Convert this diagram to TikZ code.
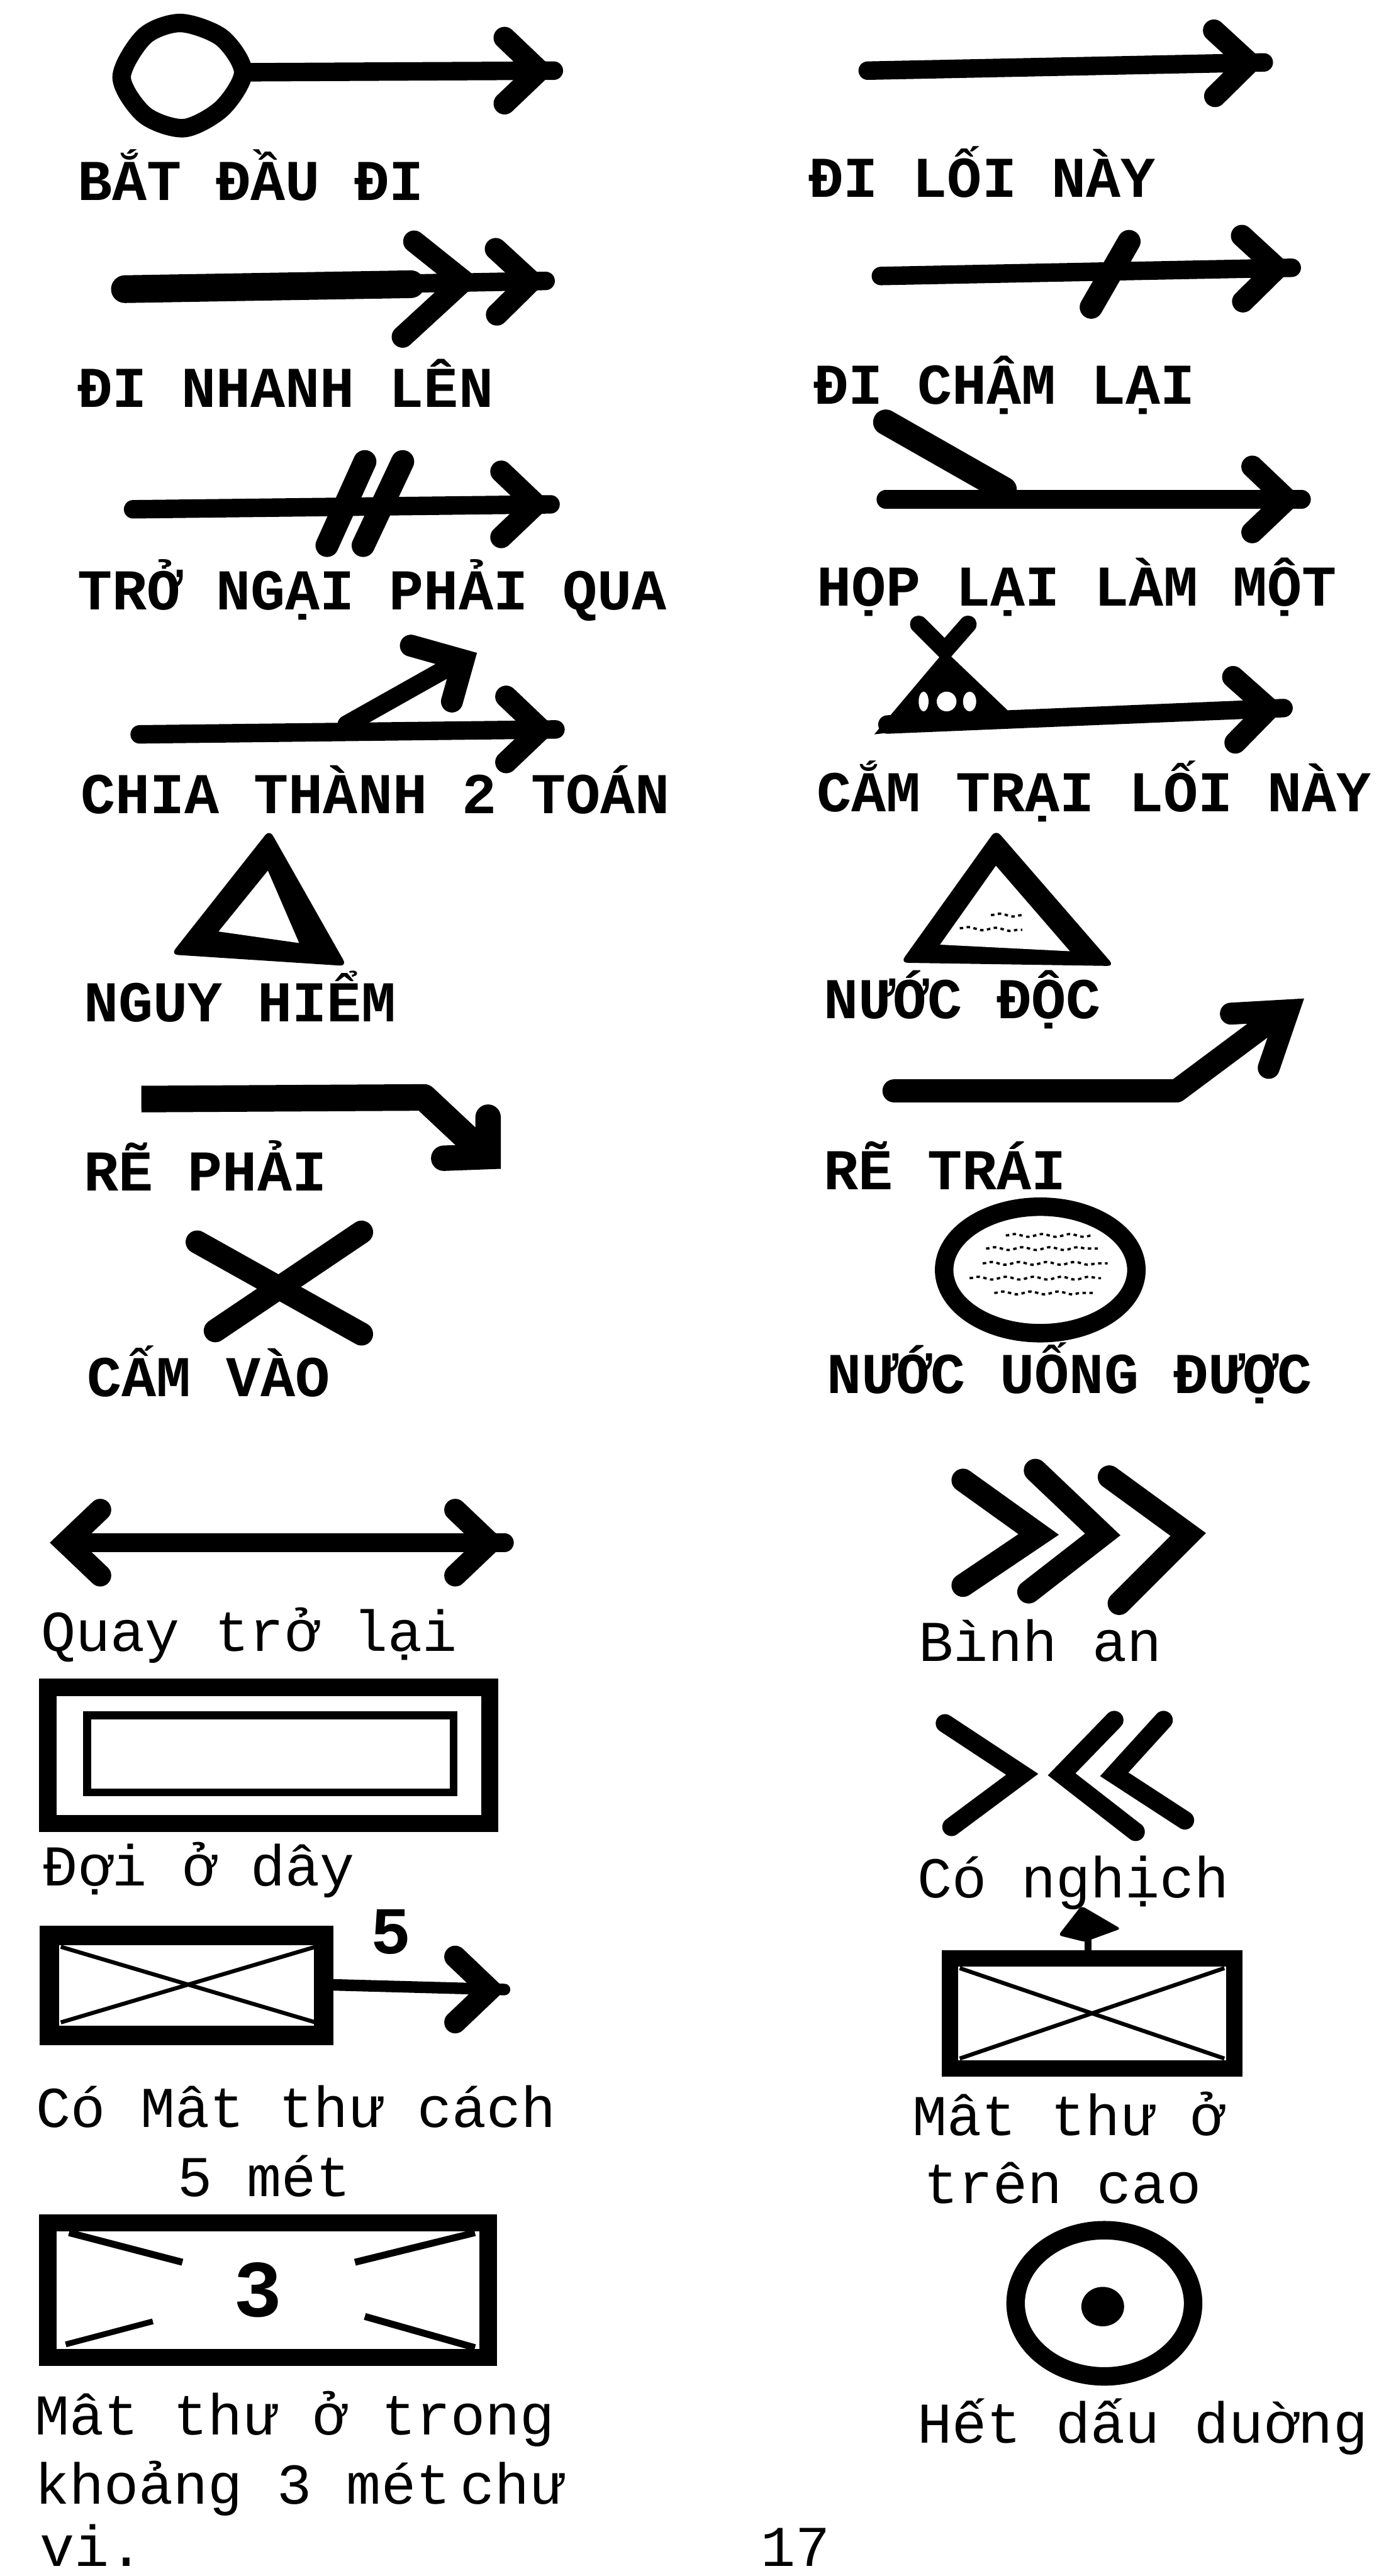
\documentclass[tikz,border=0pt]{standalone}
\usepackage{fontspec}
\setmainfont{Liberation Mono}
\usetikzlibrary{decorations.pathmorphing}
\tikzset{
  shaft/.style={line width=16pt,line cap=round,line join=round},
  barbline/.style={line width=19pt,line cap=round,line join=miter},
  fatline/.style={line width=20pt,line cap=round,line join=round},
  frame/.style={line width=15pt,line join=miter},
  thinline/.style={line width=3.5pt},
  wave/.style={line width=2pt,dashed,decorate,decoration={snake,amplitude=1.2pt,segment length=24pt}},
  capstag/.style={anchor=base west,inner sep=0pt,font=\fontsize{50}{50}\selectfont\bfseries},
  smalltag/.style={anchor=base west,inner sep=0pt,font=\fontsize{50}{50}\selectfont},
  barb/.pic={\draw[barbline] (-30,-20) -- (-9,0) -- (-30,20);}
}

\begin{document}
\begin{tikzpicture}[x=0.05cm,y=-0.05cm]
  \useasboundingbox[fill=white] (0,0) rectangle (849.4,1568);

  % captions
  \foreach \name/\px/\py/\txt in {
    cbat/47/122/BẮT ĐẦU ĐI, cloi/492/120/ĐI LỐI NÀY, cnhanh/47/248/ĐI NHANH LÊN,
    ccham/495/246/ĐI CHẬM LẠI, cngai/47/371/TRỞ NGẠI PHẢI QUA, chop/497/369/HỌP LẠI LÀM MỘT,
    cchia/49/495/CHIA THÀNH 2 TOÁN, ctrai/497/494/CẮM TRẠI LỐI NÀY, cnguy/51/622/NGUY HIỂM,
    cdoc/501/620/NƯỚC ĐỘC, cphai/51/725/RẼ PHẢI, cthai/501/724/RẼ TRÁI,
    ccam/53/850/CẤM VÀO, cuong/503/848/NƯỚC UỐNG ĐƯỢC}
    \node[capstag] (\name) at (\px,\py) {\txt};
  \foreach \name/\px/\py/\txt in {
    cquay/25/1005/Quay trở lại, cbinh/559/1011/Bình an, cdoi/26/1148/Đợi ở dây,
    cnghich/558/1155/Có nghịch, ccach/22/1295/Có Mât thư cách, cmet/108/1337/5 mét,
    ccao/555/1300/Mât thư ở, ctren/562/1341/trên cao, ctrong/21/1482/Mât thư ở trong,
    ckhoang/21/1524/khoảng 3 mét\,chư, cvi/24/1562/vi., chet/558/1487/Hết dấu duờng,
    cpage/463/1562/17}
    \node[smalltag] (\name) at (\px,\py) {\txt};

  % plain arrows
  \foreach \name/\xa/\ya/\xb/\yb/\ang in {
    loop/150/44/337/43/0, loi/528/43/769/38/1, nhanh/76/176/332/171/1,
    cham/536/168/786/163/1, ngai/81/310/335/307/0, hop/539/304/792/304/0,
    chia/85/447/338/444/0, trai/540/441/781/431/2, quay/40/939/307/939/0}{
    \coordinate (\name s) at (\xa,\ya);
    \coordinate (\name e) at (\xb,\yb);
    \draw[shaft] (\name s) -- (\name e);
    \pic[rotate=\ang] at (\name e) {barb};
  }
  \pic[rotate=180] at (31,939) {barb};

  % start loop
  \draw[line width=16pt] plot[smooth cycle] coordinates {(74,47) (88,22) (110,14) (135,23) (148,44) (135,66) (112,78) (88,70)};

  % second head and ticks
  \draw[barbline] (252,147) -- (282,171) -- (245,205);
  \draw[shaft,line width=24pt] (nhanhs) -- (250,173);
  \draw[fatline] (687,147) -- (664,187);
  \draw[fatline] (222,281) -- (199,332);
  \draw[fatline] (245,281) -- (221,332);

  % branches
  \draw[fatline,line width=22pt] (539,257) -- (611,298);
  \draw[shaft] (211,441) -- (275,405);
  \draw[barbline] (250,393) -- (282,402) -- (275,427);

  % tent
  \coordinate (tenttop) at (575,396);
  \draw[shaft,line width=15pt] (559,380) -- (tenttop) -- (589,380);
  \fill (tenttop) -- (618,437) -- (532,447) -- cycle;
  \foreach \hx/\hr in {562/3,576/6,590/4}
    \fill[white] (\hx,427) ellipse [x radius=\hr,y radius=6];

  % triangles
  \fill[rounded corners=6pt] (164,505) -- (104,581) -- (211,588) -- cycle;
  \fill[white] (163,530) -- (133,567) -- (182,574) -- cycle;
  \fill[rounded corners=6pt] (606,505) -- (548,586) -- (678,588) -- cycle;
  \fill[white] (606,527) -- (572,575) -- (651,579) -- cycle;
  \draw[wave] (584,565) -- (622,566);
  \draw[wave] (603,557) -- (622,557);

  % turns
  \draw[line width=23pt,line cap=butt,line join=round] (86,669) -- (258,668) -- (290,698);
  \draw[line width=22pt,line cap=round,line join=miter] (297,680) -- (297,704) -- (270,705);
  \draw[shaft,line width=20pt] (544,664) -- (716,664) -- (775,620);
  \draw[barbline] (749,617) -- (784,615) -- (772,650);

  % cross
  \draw[fatline] (120,756) -- (220,812);
  \draw[fatline] (220,750) -- (131,810);

  % water
  \draw[line width=16pt] (633,773) ellipse [x radius=58.5,y radius=38.5];
  \foreach \yy/\xa/\xb in {752/612/665,760/600/668,769/598/674,778/590/670,787/605/665}
    \draw[wave] (\xa,\yy) -- (\xb,\yy);

  % chevrons
  \foreach \xa/\ya/\xb/\yb/\xc/\yc in {586/901/632/934/586/965,630/895/671/934/626/969,675/899/723/934/681/976}
    \draw[fatline,line join=miter] (\xa,\ya) -- (\xb,\yb) -- (\xc,\yc);
  \foreach \xa/\ya/\xb/\yb/\xc/\yc in {575/1049/622/1080/579/1112,678/1047/646/1080/691/1115,708/1047/678/1080/721/1108}
    \draw[shaft,line join=miter] (\xa,\ya) -- (\xb,\yb) -- (\xc,\yc);

  % boxes
  \draw[frame] (29,1027) rectangle (298,1110);
  \draw[line width=7pt] (53,1044) rectangle (276,1091);

  \draw[frame,line width=17pt] (30,1178) rectangle (197,1239);
  \draw[thinline] (37,1185) -- (192,1231);
  \draw[thinline] (37,1231) -- (192,1185);
  \coordinate (boxe) at (307,1211);
  \draw[shaft,line width=10pt] (197,1208) -- (boxe);
  \pic at (boxe) {barb};
  \node[inner sep=0pt,font=\fontsize{58}{58}\selectfont\bfseries] (five) at (238,1176) {5};

  \draw[frame,line width=15pt] (29,1353) rectangle (297,1435);
  \draw[thinline,line width=6pt] (42,1359) -- (111,1377);
  \draw[thinline,line width=6pt] (289,1359) -- (216,1377);
  \draw[thinline,line width=5pt] (40,1427) -- (93,1413);
  \draw[thinline,line width=6pt] (289,1429) -- (222,1410);
  \node[inner sep=0pt,font=\fontsize{70}{70}\selectfont\bfseries] (three) at (157,1394) {3};

  \draw[frame,line width=14pt] (578,1192) rectangle (751,1259);
  \draw[thinline] (584,1198) -- (745,1253);
  \draw[thinline] (584,1253) -- (745,1198);
  \draw[line width=6pt] (662,1189) -- (662,1165);
  \fill[rounded corners=3pt] (644,1178) -- (658,1160) -- (682,1174) -- (660,1182) -- cycle;

  % end mark
  \draw[line width=16pt] (672,1402) ellipse [x radius=54,y radius=44.5];
  \fill (671,1404) ellipse [x radius=13,y radius=12];
\end{tikzpicture}
\end{document}
